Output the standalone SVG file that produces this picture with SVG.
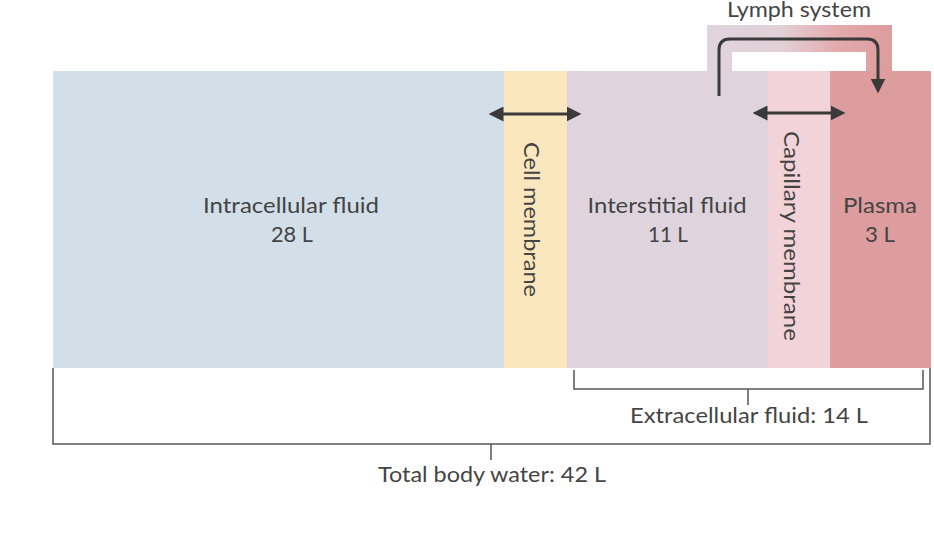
<svg xmlns="http://www.w3.org/2000/svg" width="934" height="540" viewBox="0 0 934 540">
<defs>
<style>
text{font-family:Lato,"Open Sans","Liberation Sans",sans-serif;font-size:21px;fill:#444;text-anchor:middle}
.ln{fill:none;stroke:#3a3a3a;stroke-width:3}
.br{fill:none;stroke:#555;stroke-width:1.5}
</style>
<linearGradient id="lg" x1="707" y1="0" x2="892" y2="0" gradientUnits="userSpaceOnUse">
<stop offset="0" stop-color="#dfd4de"/>
<stop offset="0.4" stop-color="#e2d0d7"/>
<stop offset="0.72" stop-color="#e4a9ab"/>
<stop offset="1" stop-color="#dd9c9d"/>
</linearGradient>
<marker id="ah" viewBox="0 0 10 10" refX="5" refY="5" markerWidth="5" markerHeight="5" orient="auto-start-reverse" markerUnits="strokeWidth">
<path d="M0,0 L10,5 L0,10 z" fill="#3a3a3a"/>
</marker>
</defs>
<g id="lymph-region">
<rect x="707" y="25" width="185" height="47" fill="url(#lg)"/>
<rect x="732" y="52" width="134" height="19" fill="#fff"/>
<text x="799" y="17" textLength="144" lengthAdjust="spacingAndGlyphs">Lymph system</text>
</g>
<g id="intracellular">
<rect x="53" y="71" width="451" height="297" fill="#d2dfe8"/>
<text x="291" y="213" textLength="176" lengthAdjust="spacingAndGlyphs">Intracellular fluid</text>
<text x="292" y="242" textLength="42" lengthAdjust="spacingAndGlyphs">28 L</text>
</g>
<g id="cell-membrane">
<rect x="504" y="71" width="63" height="297" fill="#fbe7bd"/>
<text transform="translate(524 219.5) rotate(90)" textLength="155" lengthAdjust="spacingAndGlyphs">Cell membrane</text>
</g>
<g id="interstitial">
<rect x="567" y="71" width="201" height="297" fill="#dfd4de"/>
<text x="667" y="213" textLength="159" lengthAdjust="spacingAndGlyphs">Interstitial fluid</text>
<text x="668" y="242" textLength="40" lengthAdjust="spacingAndGlyphs">11 L</text>
</g>
<g id="capillary-membrane">
<rect x="768" y="71" width="62" height="297" fill="#f2d3d9"/>
<text transform="translate(784 236) rotate(90)" textLength="210" lengthAdjust="spacingAndGlyphs">Capillary membrane</text>
</g>
<g id="plasma">
<rect x="830" y="71" width="101" height="297" fill="#dd9c9d"/>
<text x="880" y="213" textLength="74" lengthAdjust="spacingAndGlyphs">Plasma</text>
<text x="880" y="242" textLength="30" lengthAdjust="spacingAndGlyphs">3 L</text>
</g>
<g id="connectors">
<line class="ln" x1="496" y1="114" x2="574" y2="114" marker-start="url(#ah)" marker-end="url(#ah)"/>
<line class="ln" x1="760" y1="113" x2="838" y2="113" marker-start="url(#ah)" marker-end="url(#ah)"/>
<path class="ln" d="M719,96 V50 Q719,39 730,39 H867 Q878,39 878,50 V86" marker-end="url(#ah)"/>
</g>
<g id="extracellular-bracket">
<path class="br" d="M574,370 V389 H923 V370 M748,389 V405"/>
<text x="749" y="423" textLength="238" lengthAdjust="spacingAndGlyphs">Extracellular fluid: 14 L</text>
</g>
<g id="total-bracket">
<path class="br" d="M53,368 V444 H930 V368 M491,444 V460"/>
<text x="492" y="482" textLength="228" lengthAdjust="spacingAndGlyphs">Total body water: 42 L</text>
</g>
</svg>
